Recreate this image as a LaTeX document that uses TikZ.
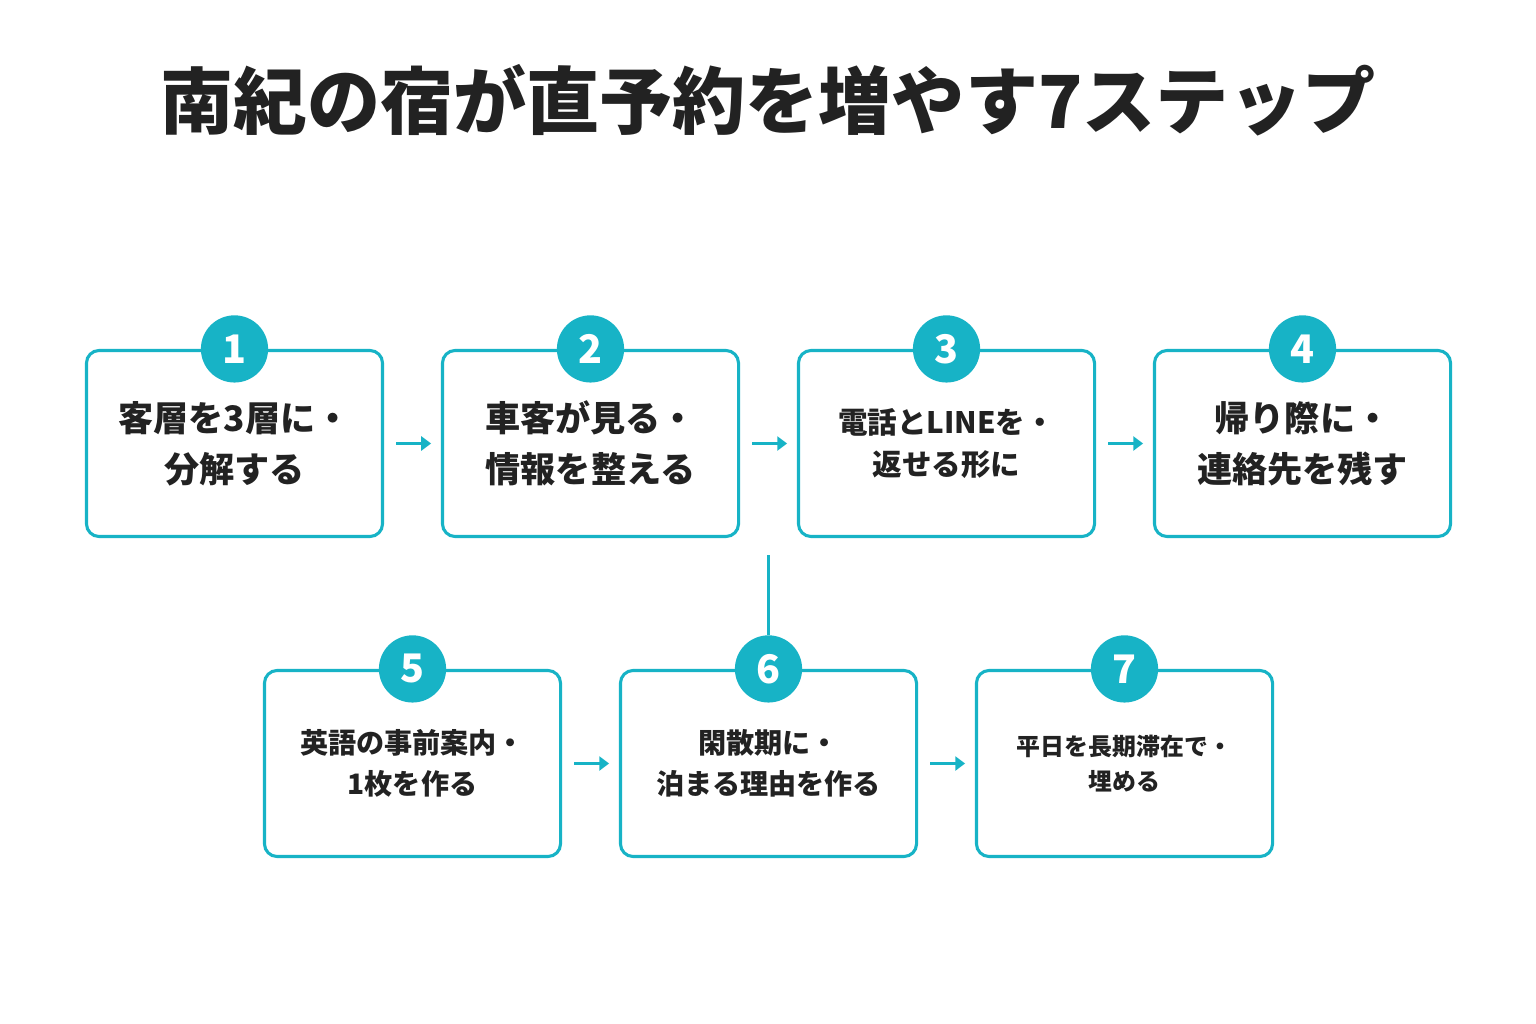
\documentclass[tikz,border=0pt]{standalone}
\usepackage{fontspec}
\setmainfont{Noto Sans CJK JP}
\usetikzlibrary{arrows.meta}
\definecolor{teal}{HTML}{17B3C6}
\definecolor{ink}{HTML}{222222}
\tikzset{
  step/.style={draw=teal, line width=2.2pt, rounded corners=9pt, minimum width=7.4cm,
    minimum height=4.65cm, align=center, text=ink, font=\fontsize{#1}{1.45\dimexpr#1pt\relax}\selectfont\bfseries},
  num/.style={circle, fill=teal, minimum size=1.68cm, inner sep=0pt, text=white,
    font=\fontsize{28}{30}\selectfont\bfseries},
  go/.style={draw=teal, line width=2.2pt, -{Triangle[length=7pt,width=10pt]}},
}
\begin{document}
\begin{tikzpicture}[x=0.025cm,y=-0.025cm]
  \useasboundingbox (0,0) rectangle (1536,1024);
  \node[text=ink, font=\fontsize{52}{56}\selectfont\bfseries] (title) at (768,100) {南紀の宿が直予約を増やす7ステップ};
  % first row
  \node[step=25] (s1) at (234.5,443.5) {客層を3層に・\\分解する};
  \node[step=25] (s2) at (590.5,443.5) {車客が見る・\\情報を整える};
  \node[step=21] (s3) at (946.5,443.5) {電話とLINEを・\\返せる形に};
  \node[step=25] (s4) at (1302.5,443.5) {帰り際に・\\連絡先を残す};
  % second row
  \node[step=20] (s5) at (412.5,763.5) {英語の事前案内・\\1枚を作る};
  \node[step=20] (s6) at (768.5,763.5) {閑散期に・\\泊まる理由を作る};
  \node[step=17] (s7) at (1124.5,763.5) {平日を長期滞在で・\\埋める};
  \foreach \i in {1,...,7} \node[num] (n\i) at (s\i.north) {\i};
  % arrows
  \draw[go] (s1.east) ++(12,0) coordinate (a1) -- ++(35,0);
  \draw[go] (s2.east) ++(12,0) -- ++(35,0);
  \draw[go] (s3.east) ++(12,0) -- ++(35,0);
  \draw[go] (s5.east) ++(12,0) -- ++(35,0);
  \draw[go] (s6.east) ++(12,0) -- ++(35,0);
  \coordinate (drop) at (768.5,555);
  \draw[teal, line width=2.2pt] (drop) -- (n6.north);
\end{tikzpicture}
\end{document}
